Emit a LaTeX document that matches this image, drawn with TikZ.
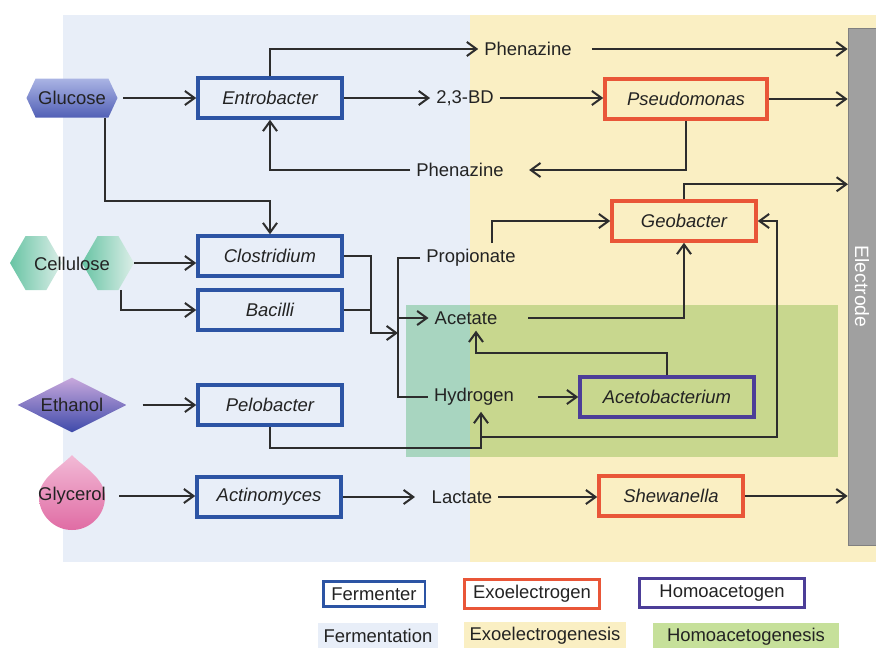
\documentclass[tikz,border=0pt]{standalone}
\usepackage{fontspec}
\setmainfont{Liberation Sans}
\usetikzlibrary{arrows.meta,shapes.geometric,shapes.symbols}

\definecolor{fermbg}{RGB}{232,238,248}
\definecolor{exobg}{RGB}{250,239,195}
\definecolor{homobg}{RGB}{200,215,142}
\definecolor{tealbg}{RGB}{168,213,192}
\definecolor{homoleg}{RGB}{198,224,154}
\definecolor{fermblue}{RGB}{44,84,164}
\definecolor{exored}{RGB}{233,86,56}
\definecolor{homopurple}{RGB}{76,62,152}
\definecolor{arrowc}{RGB}{45,45,45}
\definecolor{txt}{RGB}{35,35,35}
\definecolor{elecgray}{RGB}{160,160,160}

\begin{document}
\begin{tikzpicture}
	[x=0.02cm, y=-0.02cm, font=\fontsize{10.5}{12}\selectfont, text=txt,
	ferm/.style={draw=fermblue, line width=2pt, minimum width=2.88cm, minimum height=0.8cm, font=\fontsize{10.5}{12}\selectfont\itshape},
	exo/.style={ferm, draw=exored},
	homo/.style={ferm, draw=homopurple},
	arr/.style={draw=arrowc, line width=1.15pt, -{Straight Barb[length=5.5pt,width=8pt]}},
	conn/.style={draw=arrowc, line width=1.15pt}]
	\useasboundingbox (0,0) rectangle (876,647);
	\fill[fermbg] (63,15) rectangle (470,562);
	\fill[exobg] (470,15) rectangle (876,562);
	\fill[tealbg] (406,305) rectangle (470,457);
	\fill[homobg] (470,305) rectangle (838,457);
	\node (elec) [fill=elecgray, draw=gray, rotate=-90, minimum width=10.34cm, minimum height=0.56cm, inner sep=0, text=white, font=\fontsize{11}{12}\selectfont] at (862,286.5) {Electrode};
	\node (glucose) [signal, signal to=east and west, signal pointer angle=130, minimum width=1.82cm, minimum height=0.78cm, inner sep=0, top color={rgb,255:red,170;green,180;blue,228}, bottom color={rgb,255:red,82;green,96;blue,182}] at (72,98) {Glucose};
	\node (cellA) [signal, signal to=east and west, signal pointer angle=120, minimum width=1.04cm, minimum height=1.08cm, inner sep=0, left color={rgb,255:red,104;green,196;blue,164}, right color={rgb,255:red,220;green,238;blue,232}] at (36,263) {};
	\node (cellB) [signal, signal to=east and west, signal pointer angle=120, minimum width=1.04cm, minimum height=1.08cm, inner sep=0, left color={rgb,255:red,104;green,196;blue,164}, right color={rgb,255:red,220;green,238;blue,232}] at (108,263) {};
	\node (cell) at (72,264) {Cellulose};
	\node (eth) [diamond, aspect=2, minimum width=2.18cm, minimum height=1.1cm, inner sep=0, top color={rgb,255:red,200;green,168;blue,220}, bottom color={rgb,255:red,62;green,74;blue,170}] at (72,405) {Ethanol};
	\shade[top color={rgb,255:red,242;green,186;blue,214}, bottom color={rgb,255:red,224;green,108;blue,164}]
		(72,455) .. controls (82,466) and (105,478) .. (105,497)
		.. controls (105,515) and (90,530) .. (72,530)
		.. controls (54,530) and (39,515) .. (39,497)
		.. controls (39,478) and (62,466) .. cycle;
	\node (glyc) at (72,496) {Glycerol};
	\node (entro) [ferm] at (270,98) {Entrobacter};
	\node (clos) [ferm] at (270,256) {Clostridium};
	\node (bac) [ferm] at (270,310) {Bacilli};
	\node (pelo) [ferm] at (270,405) {Pelobacter};
	\node (act) [ferm] at (269,497) {Actinomyces};
	\node (pseudo) [exo, minimum width=3.24cm] at (686,99) {Pseudomonas};
	\node (geo) [exo] at (684,221) {Geobacter};
	\node (shew) [exo] at (671,496) {Shewanella};
	\node (aceto) [homo, minimum width=3.48cm] at (667,397) {Acetobacterium};
	\node (phen1) at (528,49) {Phenazine};
	\node (bd) at (465,98) {2,3-BD};
	\node (phen2) at (460,170) {Phenazine};
	\node (prop) at (471,258) {Propionate};
	\node (acet) at (466,318) {Acetate};
	\node (hyd) at (474,397) {Hydrogen};
	\node (lact) at (462,497) {Lactate};
	\coordinate (fork) at (398,333);
	\coordinate (jn) at (481,437);
	\draw[arr, shorten <=3pt] (glucose.east) -- (entro.west);
	\draw[arr] (entro.north) |- (phen1.west);
	\draw[arr, shorten <=8pt] (phen1.east) -- (phen1.east -| elec.south);
	\draw[arr] (entro.east) -- (bd.west);
	\draw[arr] (bd.east) -- (bd.east -| pseudo.west);
	\draw[arr] (pseudo.east) -- (pseudo.east -| elec.south);
	\draw[arr, shorten >=11pt] (pseudo.south) |- (phen2.east);
	\draw[arr] (phen2.west) -| (entro.south);
	\draw[arr] ([xshift=0.66cm]glucose.south) -- ++(0,83) -| (clos.north);
	\draw[arr] (cellB.east) -- (cellB.east -| clos.west);
	\draw[arr] ([xshift=0.26cm]cellB.south) |- (bac.west);
	\draw[arr] (clos.east) -- ++(27,0) |- (fork);
	\draw[conn] (bac.east) -- ++(27,0);
	\draw[conn] (prop.west) -| (fork) |- (hyd.west);
	\draw[arr] (fork |- acet.west) -- (acet.west);
	\draw[arr] ([xshift=0.42cm]prop.north) |- (geo.west);
	\draw[arr, shorten <=14pt] (acet.east) -| (geo.south);
	\draw[arr] (geo.north) -- ++(0,-15) -- ++(164,0);
	\draw[arr, shorten <=10pt] (hyd.east) -- (aceto.west);
	\draw[arr] (aceto.north) -- ++(0,-22) -| ([xshift=0.2cm]acet.south);
	\draw[arr, shorten <=9pt] (eth.east) -- (pelo.west);
	\draw[arr] (pelo.south) -- ++(0,21) -| ([xshift=0.14cm]hyd.south);
	\draw[arr] (jn) -- ++(296,0) |- (geo.east);
	\draw[arr, shorten <=4pt] (glyc.east) -- (glyc.east -| act.west);
	\draw[arr, shorten >=6pt] (act.east) -- (act.east -| lact.west);
	\draw[arr] (lact.east) -- (lact.east -| shew.west);
	\draw[arr] (shew.east) -- (shew.east -| elec.south);
	\node (lfer) [ferm, font=\fontsize{10.5}{12}\selectfont, line width=1.7pt, minimum width=2.04cm, minimum height=0.5cm] at (374,594) {Fermenter};
	\node (lexo) [exo, font=\fontsize{10.5}{12}\selectfont, line width=1.7pt, minimum width=2.72cm, minimum height=0.5cm] at (532,594) {Exoelectrogen};
	\node (lhom) [homo, font=\fontsize{10.5}{12}\selectfont, line width=1.7pt, minimum width=3.3cm, minimum height=0.5cm] at (722,593) {Homoacetogen};
	\node (lfmt) [fill=fermbg, minimum width=2.22cm, minimum height=0.46cm] at (378,636) {Fermentation};
	\node (lexg) [fill=exobg, minimum width=3.24cm, minimum height=0.46cm] at (545,636) {Exoelectrogenesis};
	\node (lhmg) [fill=homoleg, minimum width=3.74cm, minimum height=0.46cm] at (746,637) {Homoacetogenesis};
\end{tikzpicture}
\end{document}
